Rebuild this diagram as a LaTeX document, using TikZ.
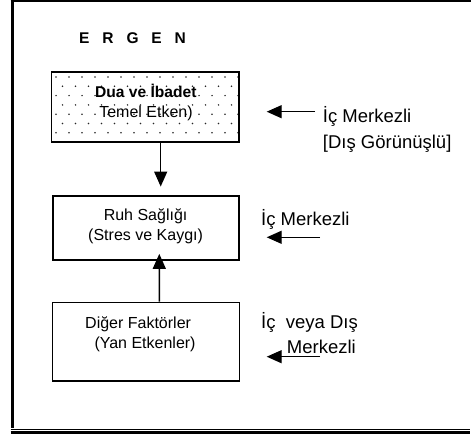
\documentclass[tikz,border=0pt]{standalone}
\usepackage{fontspec}
\setmainfont{Liberation Sans}
\usetikzlibrary{arrows.meta}
\begin{document}
\begin{tikzpicture}[x=1pt,y=-1pt,
  box/.style={draw, line width=1.6pt, rectangle, inner sep=0pt},
  arr/.style={line width=1.4pt, -{Triangle[length=15pt,width=13pt]}},
  sidearr/.style={line width=1.4pt, -{Triangle[length=15pt,width=13pt]}},
  lbl/.style={anchor=base west, inner sep=0pt, font=\fontsize{18.5}{22}\selectfont},
  btxt/.style={anchor=base, inner sep=0pt, font=\fontsize{16}{19}\selectfont},
  btxtl/.style={anchor=base west, inner sep=0pt, font=\fontsize{16}{19}\selectfont},
  frame/.style={line cap=butt}
]
\useasboundingbox (0,0) rectangle (471,436);
% frame
\draw[frame, line width=3.5pt] (12.3,0) -- (12.3,428);
\draw[frame, line width=2pt] (10.5,1) -- (471,1);
\draw[frame, line width=1pt] (10.7,429.7) -- (470,429.7);
\draw[frame, line width=2.7pt] (10.7,432.4) -- (470,432.4);
% title
\node[anchor=base west, inner sep=0pt, font=\fontsize{15.5}{18}\selectfont\bfseries] (ergen) at (79,43.7)
  {E\hspace{12.9pt}R\hspace{12.9pt}G\hspace{12.9pt}E\hspace{12.9pt}N};
% box 1 dotted fill
\begin{scope}
  \clip (52.5,73) rectangle (238.5,141);
  \foreach \j in {0,...,7} {
    \foreach \i in {0,...,14} {
      \pgfmathsetmacro{\xx}{56+13*\i+6.5*mod(\j,2)}
      \pgfmathsetmacro{\yy}{77+9.3*\j}
      \fill[black!85] (\xx,\yy) circle (0.85pt);
    }
  }
\end{scope}
\node[box, minimum width=187.3pt, minimum height=69.4pt] (dua) at (145.3,107) {};
\node[box, minimum width=186.3pt, minimum height=64.3pt] (ruh) at (145.9,227.9) {};
\node[box, minimum width=187pt, minimum height=78.7pt] (dig) at (145.8,341.7) {};
% box texts
\node[btxt, font=\fontsize{15.6}{19}\selectfont\bfseries] (t1a) at (145.8,97.7) {Dua ve İbadet};
\node[btxt] (t1b) at (146,117.3) {Temel Etken)};
\node[btxt] (t2a) at (145.6,220) {Ruh Sağlığı};
\node[btxt] (t2b) at (145.6,240) {(Stres ve Kaygı)};
\node[btxtl] (t3a) at (85,328.3) {Diğer Faktörler};
\node[btxtl] (t3b) at (94.3,348.3) {(Yan Etkenler)};
% vertical arrows
\draw[arr, shorten >=8.4pt] ([xshift=15.4pt]dua.south) -- ([xshift=14.8pt]ruh.north);
\draw[arr, shorten >=-7pt] ([xshift=13.5pt]dig.north) -- ([xshift=13.4pt]ruh.south);
% side labels
\node[lbl] (l1a) at (322.7,122.7) {İç Merkezli};
\node[lbl] (l1b) at (322.7,148.3) {[Dış Görünüşlü]};
\node[lbl] (l2) at (261,225.7) {İç Merkezli};
\node[lbl] (l3a) at (261,328.3) {İç\ \ veya Dış};
\node[lbl] (l3b) at (286.7,353.3) {Merkezli};
% side arrows
\coordinate (a1t) at (315,111.7); \coordinate (a1h) at (266.7,111.7);
\coordinate (a2t) at (320,237.3); \coordinate (a2h) at (266.7,237.3);
\coordinate (a3t) at (320,356.7); \coordinate (a3h) at (266.7,356.7);
\draw[sidearr] (a1t) -- (a1h);
\draw[sidearr] (a2t) -- (a2h);
\draw[sidearr] (a3t) -- (a3h);
\end{tikzpicture}
\end{document}
